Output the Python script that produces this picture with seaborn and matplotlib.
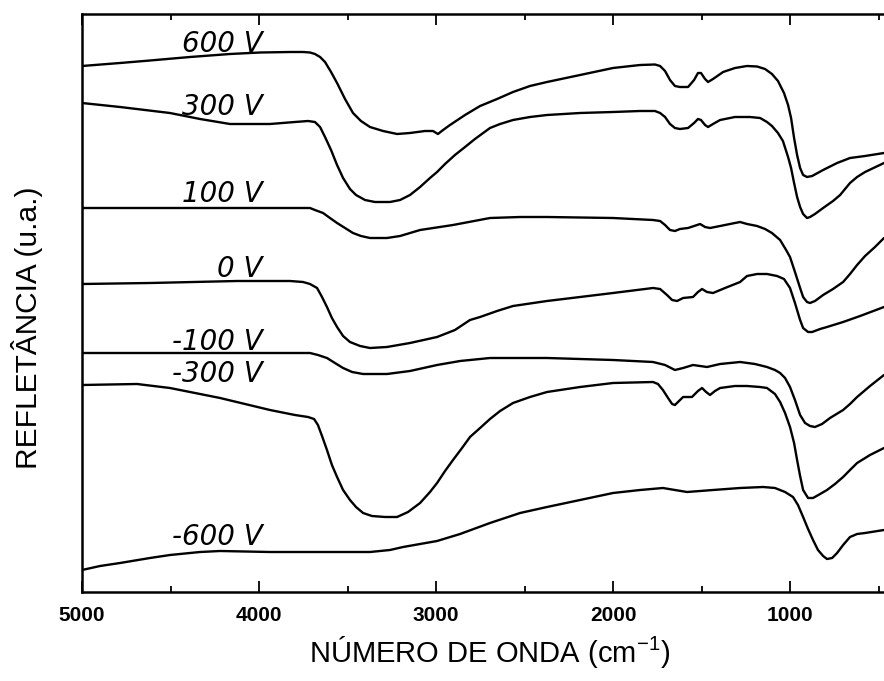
import numpy as np
import pandas as pd
import matplotlib
matplotlib.use("Agg")
import matplotlib.pyplot as plt
from matplotlib.ticker import MultipleLocator
import seaborn as sns

# wavenumber (cm-1) and reflectance (u.a.)
wn_600 = [5000, 4785, 4616, 4390, 4164, 3994, 3825, 3751, 3712, 3684, 3655, 3627, 3593, 3559,
          3514, 3469, 3424, 3373, 3299, 3220, 3147, 3062, 3017, 2989, 2960, 2921, 2836, 2751,
          2655, 2565, 2469, 2373, 2186, 2000, 1847, 1763, 1734, 1706, 1678, 1650, 1622, 1576,
          1542, 1520, 1503, 1480, 1463, 1435, 1378, 1311, 1243, 1186, 1141, 1102, 1068, 1034,
          1011, 994, 977, 960, 943, 926, 904, 875, 813, 734, 661, 576, 469]
ua_600 = [52.6, 52.9, 53.15, 53.5, 53.8, 53.95, 54.0, 54.0, 53.95, 53.8, 53.5, 53.0, 52.0, 50.9,
          49.3, 47.9, 47.1, 46.5, 46.1, 45.8, 45.9, 46.1, 46.1, 45.8, 46.2, 46.7, 47.7, 48.6,
          49.3, 50.0, 50.6, 51.0, 51.7, 52.4, 52.7, 52.75, 52.6, 52.1, 51.2, 50.6, 50.5, 50.5,
          51.2, 51.9, 51.9, 51.3, 51.0, 51.3, 52.0, 52.4, 52.6, 52.55, 52.3, 51.8, 51.1, 49.9,
          48.7, 47.4, 45.4, 43.7, 42.4, 41.7, 41.5, 41.6, 42.2, 42.9, 43.4, 43.6, 43.9]

wn_300 = [5000, 4785, 4503, 4333, 4164, 3938, 3797, 3723, 3684, 3655, 3627, 3593, 3559, 3525,
          3486, 3452, 3401, 3345, 3260, 3203, 3147, 3090, 3034, 2994, 2949, 2893, 2836, 2780,
          2695, 2638, 2565, 2469, 2373, 2186, 2000, 1847, 1763, 1734, 1706, 1678, 1650, 1622,
          1576, 1542, 1520, 1503, 1480, 1463, 1435, 1395, 1311, 1226, 1169, 1130, 1102, 1068,
          1040, 1011, 994, 977, 960, 943, 926, 904, 887, 859, 813, 757, 717, 661, 621, 576, 469]
ua_300 = [48.9, 48.5, 47.9, 47.3, 46.8, 46.8, 47.0, 47.1, 47.0, 46.5, 45.5, 44.2, 42.7, 41.4,
          40.3, 39.7, 39.2, 39.0, 39.0, 39.2, 39.7, 40.5, 41.4, 42.0, 42.8, 43.7, 44.5, 45.3,
          46.4, 46.8, 47.2, 47.5, 47.7, 47.9, 48.0, 48.1, 48.1, 47.9, 47.5, 46.8, 46.4, 46.3,
          46.4, 46.9, 47.3, 47.2, 46.7, 46.5, 46.8, 47.2, 47.5, 47.5, 47.4, 47.0, 46.6, 45.9,
          45.1, 43.5, 42.4, 40.9, 39.5, 38.5, 37.8, 37.4, 37.5, 37.8, 38.4, 39.1, 39.7, 40.9,
          41.5, 42.0, 42.9]

wn_100 = [5000, 4333, 3751, 3712, 3684, 3638, 3599, 3559, 3514, 3469, 3424, 3373, 3277, 3203,
          3090, 2904, 2695, 2525, 2373, 2000, 1774, 1734, 1706, 1678, 1650, 1622, 1576, 1542,
          1508, 1480, 1452, 1395, 1311, 1282, 1243, 1186, 1141, 1102, 1056, 1022, 1000, 972,
          943, 926, 904, 887, 859, 813, 757, 700, 661, 621, 576, 520, 469]
ua_100 = [38.4, 38.4, 38.4, 38.4, 38.2, 37.9, 37.4, 36.9, 36.4, 35.9, 35.6, 35.4, 35.4, 35.6,
          36.2, 36.7, 37.4, 37.5, 37.5, 37.4, 37.2, 37.1, 36.7, 36.2, 36.1, 36.3, 36.4, 36.6,
          36.8, 36.5, 36.4, 36.6, 36.9, 37.0, 36.8, 36.6, 36.3, 35.9, 35.2, 34.2, 33.5, 32.0,
          30.4, 29.5, 29.0, 28.9, 29.1, 29.7, 30.3, 31.0, 31.8, 32.7, 33.6, 34.5, 35.4]

wn_0 = [5000, 4616, 4124, 3825, 3751, 3712, 3672, 3644, 3616, 3588, 3559, 3525, 3486, 3429,
        3373, 3277, 3147, 2994, 2893, 2808, 2751, 2655, 2565, 2373, 2186, 2000, 1774, 1734,
        1695, 1666, 1638, 1604, 1548, 1520, 1497, 1469, 1435, 1367, 1282, 1243, 1186, 1130,
        1073, 1034, 1000, 972, 943, 926, 898, 875, 830, 791, 700, 604, 469]
ua_0 = [30.8, 30.9, 31.1, 31.1, 31.0, 30.8, 30.4, 29.5, 28.5, 27.4, 26.5, 25.6, 25.0, 24.6,
        24.4, 24.5, 24.9, 25.5, 26.2, 27.2, 27.5, 28.1, 28.6, 29.1, 29.5, 29.9, 30.4, 30.3,
        29.7, 29.2, 29.1, 29.4, 29.5, 30.0, 30.3, 30.0, 29.9, 30.4, 31.0, 31.6, 31.8, 31.8,
        31.6, 31.3, 30.4, 28.9, 27.2, 26.4, 26.0, 26.0, 26.3, 26.5, 27.0, 27.6, 28.5]

wn_m100 = [5000, 4333, 3712, 3667, 3616, 3571, 3525, 3474, 3412, 3277, 3147, 2994, 2864, 2695,
           2373, 2000, 1774, 1706, 1650, 1604, 1548, 1508, 1469, 1395, 1282, 1198, 1130, 1085,
           1056, 1028, 1000, 972, 943, 915, 887, 859, 819, 774, 700, 661, 621, 548, 469]
ua_m100 = [23.9, 23.9, 23.9, 23.7, 23.4, 22.9, 22.4, 22.0, 21.8, 21.8, 22.1, 22.7, 23.1, 23.4,
           23.4, 23.2, 23.0, 22.7, 22.2, 22.4, 22.7, 22.6, 22.5, 22.8, 23.0, 22.8, 22.5, 22.2,
           21.9, 21.4, 20.5, 19.2, 17.7, 16.9, 16.6, 16.5, 16.8, 17.4, 18.2, 18.8, 19.5, 20.6,
           21.7]

wn_m300 = [5000, 4689, 4503, 4220, 3938, 3797, 3723, 3689, 3667, 3644, 3616, 3588, 3559, 3525,
           3486, 3452, 3412, 3362, 3288, 3220, 3158, 3090, 3034, 2994, 2949, 2904, 2853, 2808,
           2751, 2695, 2638, 2565, 2469, 2373, 2186, 2000, 1774, 1746, 1718, 1689, 1666, 1650,
           1627, 1604, 1554, 1520, 1497, 1474, 1452, 1424, 1395, 1311, 1243, 1169, 1130, 1085,
           1056, 1028, 1000, 977, 960, 943, 926, 898, 870, 830, 791, 746, 700, 661, 621, 548,
           469]
ua_m300 = [20.7, 20.8, 20.4, 19.4, 18.2, 17.7, 17.5, 17.3, 16.7, 15.6, 14.2, 12.7, 11.5, 10.2,
           9.2, 8.5, 7.9, 7.6, 7.5, 7.5, 8.0, 8.9, 10.0, 10.9, 12.1, 13.2, 14.4, 15.5,
           16.4, 17.3, 18.1, 18.9, 19.5, 20.0, 20.5, 20.9, 21.0, 20.8, 20.2, 19.4, 18.8, 18.7,
           19.1, 19.5, 19.5, 20.1, 20.4, 20.0, 19.7, 20.1, 20.4, 20.6, 20.6, 20.5, 20.4, 19.8,
           19.0, 17.9, 16.5, 14.9, 13.2, 11.6, 10.2, 9.4, 9.4, 9.8, 10.2, 10.8, 11.5, 12.2,
           12.9, 13.7, 14.4]

wn_m600 = [5000, 4898, 4785, 4616, 4503, 4333, 4220, 3938, 3373, 3260, 3186, 3090, 2994, 2864,
           2695, 2525, 2373, 2186, 2000, 1847, 1718, 1650, 1582, 1508, 1435, 1282, 1152, 1085,
           1028, 983, 955, 926, 898, 870, 842, 813, 791, 762, 734, 700, 661, 621, 576, 469]
ua_m600 = [2.2, 2.6, 2.9, 3.4, 3.7, 4.0, 4.1, 4.0, 4.0, 4.2, 4.5, 4.8, 5.1, 5.8,
           6.9, 7.9, 8.5, 9.2, 9.9, 10.2, 10.4, 10.2, 10.0, 10.1, 10.2, 10.4, 10.5, 10.4,
           10.0, 9.5, 8.7, 7.5, 6.3, 5.2, 4.2, 3.6, 3.3, 3.4, 3.9, 4.7, 5.5, 5.8, 5.9, 6.2]

labels = ["600 V", "300 V", "100 V", "0 V", "-100 V", "-300 V", "-600 V"]
label_ua = [54.0, 47.7, 39.0, 31.5, 24.2, 21.0, 4.7]
label_wn = 3980

series = [(wn_600, ua_600), (wn_300, ua_300), (wn_100, ua_100), (wn_0, ua_0),
          (wn_m100, ua_m100), (wn_m300, ua_m300), (wn_m600, ua_m600)]

frames = []
for lab, (w, u) in zip(labels, series):
    frames.append(pd.DataFrame({"wn": w, "ua": u, "amostra": lab}))
df = pd.concat(frames, ignore_index=True)

sns.set_style("ticks")
plt.rcParams["mathtext.fontset"] = "custom"
plt.rcParams["mathtext.rm"] = "Liberation Sans"
plt.rcParams["text.color"] = "black"
plt.rcParams["axes.edgecolor"] = "black"
plt.rcParams["xtick.color"] = "black"

fig = plt.figure(figsize=(8.84, 6.81), dpi=100)
ax = fig.add_axes([82 / 884, 1 - 592 / 681, 802 / 884, 578 / 681])

sns.lineplot(data=df, x="wn", y="ua", units="amostra", estimator=None, sort=False,
             color="black", lw=1.7, ax=ax, legend=False)

ax.set_xlim(5000, 469)
ax.set_ylim(0, 57.8)
ax.xaxis.set_major_locator(MultipleLocator(1000))
ax.xaxis.set_minor_locator(MultipleLocator(500))
ax.set_yticks([])
ax.tick_params(axis="x", which="both", direction="in", top=True, bottom=True, width=1.3,
               colors="black")
ax.tick_params(axis="x", which="major", length=8, pad=10)
ax.tick_params(axis="x", which="minor", length=4.5)
for t in ax.get_xticklabels():
    t.set_fontfamily("Liberation Sans")
    t.set_fontweight("bold")
    t.set_fontsize(15)

for side in ["left", "top", "bottom"]:
    ax.spines[side].set_linewidth(1.8)
ax.spines["right"].set_visible(False)

ax.set_xlabel("")
ax.set_ylabel("")

for lab, y in zip(labels, label_ua):
    ax.text(label_wn, y, lab, ha="right", va="baseline", style="italic",
            fontsize=20, family="DejaVu Sans", color="black")

fig.text(490 / 884, 1 - 652 / 681, "NÚMERO DE ONDA (cm$^{\\mathregular{-1}}$)",
         ha="center", va="center", fontsize=21, family="Liberation Sans", color="black")
fig.text(27 / 884, 1 - 328 / 681, "REFLETÂNCIA (u.a.)", rotation=90,
         ha="center", va="center", fontsize=21.5, family="Liberation Sans", color="black")

fig.savefig("out.png", dpi=100)
